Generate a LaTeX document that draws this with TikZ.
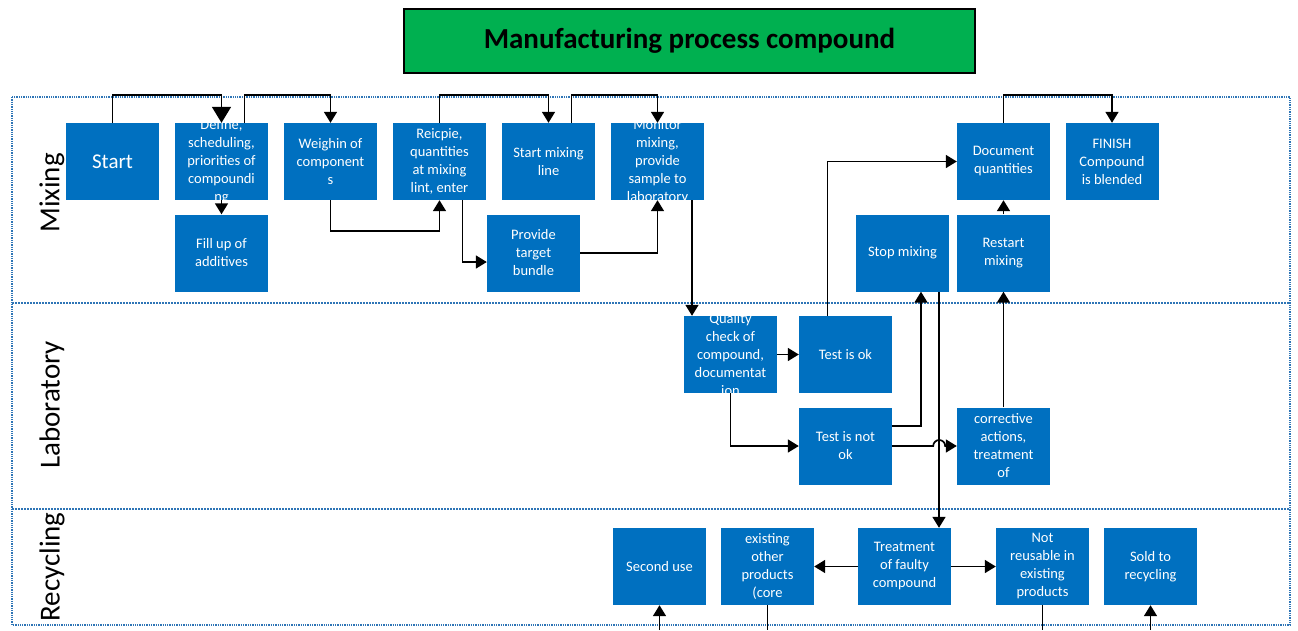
\documentclass[tikz,border=0pt]{standalone}
\usepackage{fontspec}
\setmainfont{Carlito}
\usetikzlibrary{arrows.meta,calc}

\definecolor{boxblue}{HTML}{0070C0}
\definecolor{laneblue}{HTML}{2E75B6}
\definecolor{titlegreen}{HTML}{00B050}

\begin{document}
\begin{tikzpicture}[x=1pt, y=-1pt,
  procbox/.style={fill=boxblue, minimum width=93pt, minimum height=77pt, inner sep=0pt},
  boxtxt/.style={text=white, font=\fontsize{14.5}{18}\selectfont, align=center, inner sep=0pt},
  lanetxt/.style={rotate=90, font=\fontsize{29}{34}\selectfont},
  lane/.style={draw=laneblue, densely dotted, line width=1.3pt},
  arr/.style={-{Triangle[width=13pt,length=11pt]}, line width=1.7pt},
  bigarr/.style={-{Triangle[width=19pt,length=16pt]}, line width=1.7pt}]
\useasboundingbox (0,0) rectangle (1298,630);

\node[draw=black, line width=1.5pt, fill=titlegreen, minimum width=571pt, minimum height=64pt,
  font=\bfseries\fontsize{29}{34}\selectfont] (title) at (689.5,41) {Manufacturing process compound};

% lanes
\draw[lane] (12,97) rectangle (1290,625);
\draw[lane, line width=2pt] (12,303) -- (1290,303);
\draw[lane, line width=2pt] (12,509) -- (1290,509);
\node[lanetxt] (mixlane) at (52,193) {Mixing};
\node[lanetxt] (lablane) at (52,405) {Laboratory};
\node[lanetxt] (reclane) at (52,567) {Recycling};

% mixing
\node[procbox, label={[boxtxt, font=\fontsize{21}{24}\selectfont]center:Start}] (start) at (112.5,161.5) {};
\node[procbox, label={[boxtxt]center:Define,\\scheduling,\\priorities of\\compoundi\\ng}] (define) at (221.5,161.5) {};
\node[procbox, label={[boxtxt]center:Weighin of\\component\\s}] (weigh) at (330.5,161.5) {};
\node[procbox, label={[boxtxt]center:Reicpie,\\quantities\\at mixing\\lint, enter}] (recipe) at (439.5,161.5) {};
\node[procbox, label={[boxtxt]center:Start mixing\\line}] (startmix) at (548.5,161.5) {};
\node[procbox, label={[boxtxt]center:Monitor\\mixing,\\provide\\sample to\\laboratory}] (monitor) at (657.5,161.5) {};
\node[procbox, label={[boxtxt]center:Document\\quantities}] (document) at (1003.5,161.5) {};
\node[procbox, label={[boxtxt]center:FINISH\\Compound\\is blended}] (finish) at (1112,161.5) {};
\node[procbox, label={[boxtxt]center:Fill up of\\additives}] (fillup) at (221.5,253) {};
\node[procbox, label={[boxtxt]center:Provide\\target\\bundle}] (provide) at (533.5,253) {};
\node[procbox, label={[boxtxt]center:Stop mixing}] (stop) at (902.5,253) {};
\node[procbox, label={[boxtxt]center:Restart\\mixing}] (restart) at (1003.5,253) {};

% laboratory
\node[procbox, label={[boxtxt]center:Quality\\check of\\compound,\\documentat\\ion}] (quality) at (730.5,354.5) {};
\node[procbox, label={[boxtxt]center:Test is ok}] (testok) at (845.5,354.5) {};
\node[procbox, label={[boxtxt]center:Test is not\\ok}] (notok) at (845.5,446) {};
\node[procbox, label={[boxtxt]center:corrective\\actions,\\treatment\\of}] (corrective) at (1003.5,446) {};

% recycling
\node[procbox, label={[boxtxt]center:Second use}] (second) at (659.5,566.5) {};
\node[procbox, label={[boxtxt]center:existing\\other\\products\\(core}] (existing) at (767.5,566.5) {};
\node[procbox, label={[boxtxt]center:Treatment\\of faulty\\compound}] (treat) at (904.5,566.5) {};
\node[procbox, label={[boxtxt]center:Not\\reusable in\\existing\\products}] (notreuse) at (1042.5,566.5) {};
\node[procbox, label={[boxtxt]center:Sold to\\recycling}] (sold) at (1150.5,566.5) {};

\coordinate (secondin) at ([yshift=-25pt]second.south);
\coordinate (existout) at ([yshift=-25pt]existing.south);
\coordinate (notreuseout) at ([yshift=-25pt]notreuse.south);
\coordinate (soldin) at ([yshift=-25pt]sold.south);

% connectors
\draw[bigarr] (start.north) -- ++(0,-28) -| (define.north);
\draw[arr] ([xshift=23pt]define.north) -- ++(0,-28) -| (weigh.north);
\draw[arr] (define.south) -- (fillup.north);
\draw[arr] (weigh.south) -- ++(0,31) -| (recipe.south);
\draw[arr] (recipe.north) -- ++(0,-28) -| (startmix.north);
\draw[arr] ([xshift=23pt]startmix.north) -- ++(0,-28) -| (monitor.north);
\draw[arr] ([xshift=23pt]recipe.south) |- ([yshift=-9pt]provide.west);
\draw[arr] (provide.east) -| (monitor.south);
\draw[arr] ([xshift=34.5pt]monitor.south) -- ([xshift=-38.5pt]quality.north);
\draw[arr] (quality.east) -- (testok.west);
\draw[arr] (quality.south) |- (notok.west);
\draw[arr] ([xshift=-18pt]testok.north) |- (document.west);
\draw[arr] ([yshift=20pt]notok.east) -| ([xshift=18.5pt]stop.south);
\draw[arr] ([xshift=36.5pt]stop.south) -- ([xshift=36.5pt]stop.south |- treat.north);
\draw[arr] (notok.east) -- ++(41,0) arc[start angle=180, end angle=0, radius=6pt] -- (corrective.west);
\draw[arr] (corrective.north) -- (restart.south);
\draw[arr] (restart.north) -- (document.south);
\draw[arr] (document.north) -- ++(0,-28) -| (finish.north);
\draw[arr] (treat.west) -- (existing.east);
\draw[arr] (treat.east) -- (notreuse.west);
\draw[arr] (secondin) -- (second.south);
\draw[line width=1.7pt] (existing.south) -- (existout);
\draw[line width=1.7pt] (notreuse.south) -- (notreuseout);
\draw[arr] (soldin) -- (sold.south);
\end{tikzpicture}
\end{document}
